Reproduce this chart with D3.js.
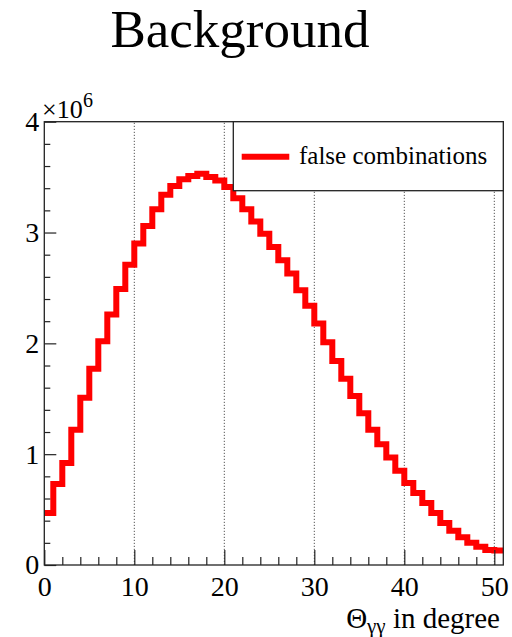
<!DOCTYPE html>
<html>
<head>
<meta charset="utf-8">
<script src="https://cdn.jsdelivr.net/npm/d3@7"></script>
<style>
  html, body { margin: 0; padding: 0; background: #fff; }
  svg { display: block; }
</style>
</head>
<body>
<svg id="chart" width="512" height="637"></svg>
<script>
// Opening angle between the two photons, 1-degree bins starting at 0
const binStart = 0;
const binWidth = 1;
const counts = [
  470000, 730000, 920000, 1220000, 1510000, 1770000, 2020000, 2260000, 2490000, 2710000,
  2900000, 3060000, 3210000, 3340000, 3420000, 3480000, 3510000, 3530000, 3500000, 3470000,
  3410000, 3310000, 3210000, 3100000, 2990000, 2870000, 2750000, 2630000, 2480000, 2340000,
  2180000, 2010000, 1840000, 1680000, 1525000, 1370000, 1220000, 1090000, 970000, 850000,
  740000, 650000, 560000, 470000, 380000, 310000, 250000, 200000, 165000, 135000,
  130000
];
const xMajorTicks = [0, 10, 20, 30, 40, 50];
const xMinorTicks = [2, 4, 6, 8, 12, 14, 16, 18, 22, 24, 26, 28, 32, 34, 36, 38, 42, 44, 46, 48];
const yMajorTicks = [0, 1e6, 2e6, 3e6, 4e6];
const yMinorTicks = d3.range(0, 4e6 + 1, 2e5).filter(v => v % 1e6 !== 0);
const gridLines = [10, 20, 30, 40, 50];
const titleText = "Background";
const legendLabel = "false combinations";

const FONT = "Liberation Serif";
const svg = d3.select("#chart").attr("font-family", FONT);
const frameLeft = 44.3, frameRight = 503.3, frameTop = 121.7, frameBottom = 565;
const xMax = binStart + binWidth * counts.length;

const x = d3.scaleLinear().domain([0, xMax]).range([frameLeft, frameRight]);
const y = d3.scaleLinear().domain([0, 4e6]).range([frameBottom, frameTop]);

// title
svg.append("text")
  .attr("x", 240).attr("y", 47)
  .attr("text-anchor", "middle")
  .attr("font-family", FONT)
  .attr("font-size", 53)
  .text(titleText);

// dotted vertical grid
svg.append("g").selectAll("line").data(gridLines).join("line")
  .attr("x1", d => x(d)).attr("x2", d => x(d))
  .attr("y1", y(0)).attr("y2", y(4e6))
  .attr("stroke", "#555").attr("stroke-width", 1)
  .attr("stroke-dasharray", "1.2,1.8");

// histogram outline
const pts = counts.map((c, i) => [binStart + i * binWidth, c]);
pts.push([xMax, counts[counts.length - 1]]);
const line = d3.line()
  .x(d => x(d[0])).y(d => y(d[1]))
  .curve(d3.curveStepAfter);
svg.append("path")
  .datum(pts)
  .attr("d", line)
  .attr("fill", "none")
  .attr("stroke", "#ff0000")
  .attr("stroke-width", 6)
  .attr("stroke-linejoin", "miter");

// x axis: ticks point into the frame
const xAxis = svg.append("g").attr("transform", `translate(0,${frameBottom})`)
  .call(d3.axisBottom(x).tickValues(xMajorTicks).tickSizeInner(-15).tickSizeOuter(0)
    .tickPadding(11).tickFormat(d3.format("d")));
xAxis.append("g").call(d3.axisBottom(x).tickValues(xMinorTicks).tickSizeInner(-8)
  .tickSizeOuter(0).tickFormat(""));

// y axis
const yAxis = svg.append("g").attr("transform", `translate(${frameLeft},0)`)
  .call(d3.axisLeft(y).tickValues(yMajorTicks).tickSizeInner(-12).tickSizeOuter(0)
    .tickPadding(5).tickFormat(d => d / 1e6));
yAxis.append("g").call(d3.axisLeft(y).tickValues(yMinorTicks).tickSizeInner(-6)
  .tickSizeOuter(0).tickFormat(""));

svg.selectAll(".domain").remove();
xAxis.attr("font-family", FONT).attr("font-size", 28);
yAxis.attr("font-family", FONT).attr("font-size", 28);
svg.selectAll(".tick line").attr("stroke", "#222").attr("stroke-width", 1.2);
svg.selectAll(".tick text")
  .attr("font-family", FONT)
  .attr("font-size", 28).attr("fill", "#000");

// frame
svg.append("rect")
  .attr("x", frameLeft).attr("y", frameTop)
  .attr("width", frameRight - frameLeft).attr("height", frameBottom - frameTop)
  .attr("fill", "none").attr("stroke", "#222").attr("stroke-width", 1.3);

// exponent label for the y axis
svg.append("text").attr("x", 42).attr("y", 118)
  .attr("font-family", FONT).attr("font-size", 26).text("\u00d710");
svg.append("text").attr("x", 83).attr("y", 107)
  .attr("font-family", FONT).attr("font-size", 20).text("6");

// x axis title
const xt = svg.append("text").attr("x", 500).attr("y", 628)
  .attr("text-anchor", "end")
  .attr("font-family", FONT).attr("font-size", 29);
xt.append("tspan").text("\u0398");
xt.append("tspan").attr("font-size", 21).attr("dy", 5).text("\u03b3\u03b3");
xt.append("tspan").attr("dy", -5).text(" in degree");

// legend
const lg = svg.append("g");
lg.append("rect")
  .attr("x", 233.3).attr("y", frameTop)
  .attr("width", frameRight - 233.3).attr("height", 190.7 - frameTop)
  .attr("fill", "#fff").attr("stroke", "#222").attr("stroke-width", 1.3);
lg.append("line")
  .attr("x1", 241.7).attr("x2", 289.3)
  .attr("y1", 156.7).attr("y2", 156.7)
  .attr("stroke", "#ff0000").attr("stroke-width", 6);
lg.append("text")
  .attr("x", 299).attr("y", 164)
  .attr("font-family", FONT)
  .attr("font-size", 25)
  .text(legendLabel);
</script>
</body>
</html>
